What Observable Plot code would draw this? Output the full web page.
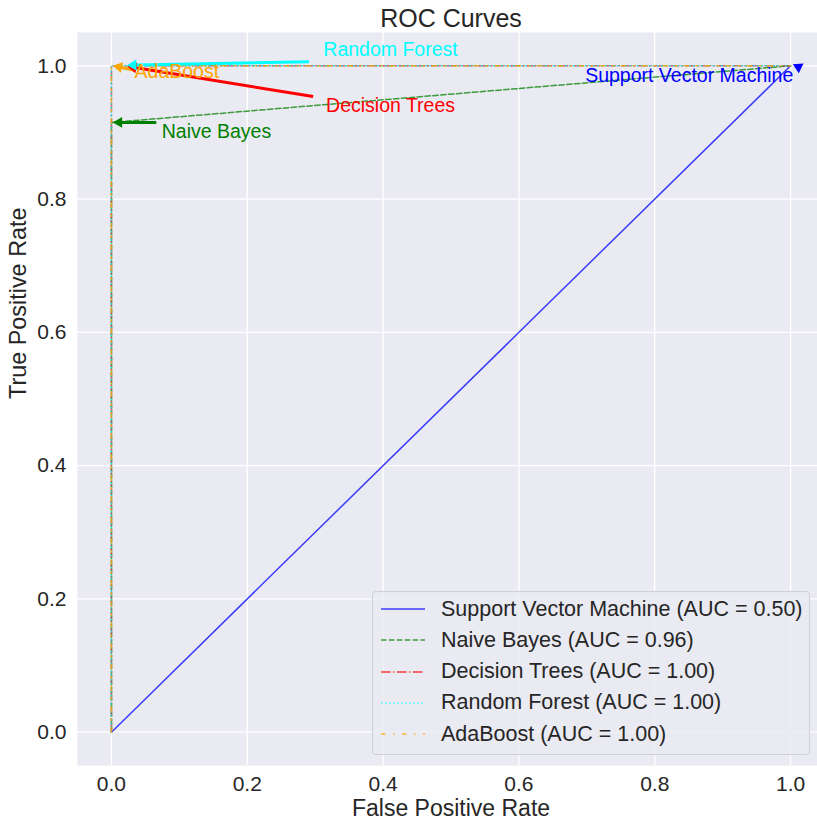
<!DOCTYPE html>
<html>
<head>
<meta charset="utf-8">
<script src="https://cdn.jsdelivr.net/npm/d3@7"></script>
<script src="https://cdn.jsdelivr.net/npm/@observablehq/plot@0.6"></script>
<style>
  html, body { margin: 0; padding: 0; background: #fff; overflow: hidden; }
  #wrap { position: relative; width: 817px; height: 822px; font-family: "Liberation Sans", Arial, sans-serif; }
  #legend { position: absolute; left: 372px; top: 591px; width: 438px; height: 164px;
            border: 1px solid #cfcfd6; border-radius: 4px; background: rgba(234,234,242,0.85); box-sizing: border-box; }
  .row { position: absolute; left: 0; height: 30px; display: flex; align-items: center; }
  .row span { font-size: 21.5px; color: #262626; margin-left: 16px; white-space: nowrap; }
  .row svg { margin-left: 8px; }
</style>
</head>
<body>
<div id="wrap"><div id="legend"></div></div>
<script>
// ---- data ----
const models = ["Support Vector Machine", "Naive Bayes", "Decision Trees", "Random Forest", "AdaBoost"];
const aucs = [0.50, 0.96, 1.00, 1.00, 1.00];
const colors = ["blue", "green", "red", "cyan", "orange"];

const fprSVM = [0, 1];        const tprSVM = [0, 1];
const fprNB  = [0, 0, 1];     const tprNB  = [0, 0.915, 1];
const fprDT  = [0, 0, 1];     const tprDT  = [0, 1, 1];
const fprRF  = [0, 0, 1];     const tprRF  = [0, 1, 1];
const fprAda = [0, 0, 1];     const tprAda = [0, 1, 1];

const xTicks = [0, 0.2, 0.4, 0.6, 0.8, 1.0];
const yTicks = [0, 0.2, 0.4, 0.6, 0.8, 1.0];

// annotations (text position and arrow from -> to, in data units)
const annText   = ["Support Vector Machine", "Naive Bayes", "Decision Trees", "Random Forest", "AdaBoost"];
const annTextX  = [1.004, 0.074, 0.316, 0.312, 0.034];
const annTextY  = [0.985, 0.901, 0.940, 1.024, 0.991];
const annAnchor = ["end", "start", "start", "start", "start"];
const annFromX  = [1.011, 0.066, 0.297, 0.291, 0.036];
const annFromY  = [1.008, 0.915, 0.954, 1.006, 0.993];
const annToX    = [1.012, 0.003, 0.024, 0.024, 0.003];
const annToY    = [0.990, 0.915, 0.999, 1.001, 1.000];

// ---- styles ----
const dashes = [null, "5.5,2.4", "9.6,2.4,1.5,2.4", "1.5,2.5", "4.5,7.5,1.5,7.5"];
const series = [[fprSVM, tprSVM], [fprNB, tprNB], [fprDT, tprDT], [fprRF, tprRF], [fprAda, tprAda]];

const W = 817, H = 822, mL = 77, mR = -7, mT = 32, mB = 57;
const xDom = [-0.05, 1.05], yDom = [-0.05, 1.05];
const kx = (W - mR - mL) / (xDom[1] - xDom[0]);
const ky = (H - mB - mT) / (yDom[1] - yDom[0]);
const font = "Liberation Sans, Arial, sans-serif";

const lineMarks = series.map(([fx, ty], i) =>
  Plot.line(d3.zip(fx, ty), {
    x: d => d[0], y: d => d[1],
    stroke: colors[i], strokeOpacity: 0.75, strokeWidth: 1.5,
    strokeDasharray: dashes[i] || undefined
  })
);

const ann = annText.map((t, i) => {
  const dxp = (annToX[i] - annFromX[i]) * kx;
  const dyp = -(annToY[i] - annFromY[i]) * ky;
  const len = Math.hypot(dxp, dyp) || 1;
  const ux = dxp / len, uy = dyp / len;
  const back = 5.5;
  return {
    text: t, color: colors[i], anchor: annAnchor[i],
    tx: annTextX[i], ty: annTextY[i],
    fx: annFromX[i], fy: annFromY[i],
    cx: annToX[i] - ux * back / kx, cy: annToY[i] + uy * back / ky,
    rot: Math.atan2(ux, -uy) * 180 / Math.PI,
    bx: annToX[i] - ux * 7 / kx, by: annToY[i] + uy * 7 / ky
  };
});
const annShaft = ann.filter((a, i) => i !== 0);

const chart = Plot.plot({
  width: W, height: H,
  marginLeft: mL, marginRight: mR, marginTop: mT, marginBottom: mB,
  style: { fontFamily: font, fontSize: "21px", color: "#262626", background: "white", overflow: "hidden" },
  x: { domain: xDom, ticks: xTicks, tickFormat: d => d.toFixed(1), tickSize: 0, tickPadding: 11, label: null },
  y: { domain: yDom, ticks: yTicks, tickFormat: d => d.toFixed(1), tickSize: 0, tickPadding: 11, label: null },
  marks: [
    Plot.frame({ fill: "#EAEAF2", stroke: "none" }),
    Plot.ruleX(xTicks, { stroke: "white", strokeWidth: 1.3, strokeOpacity: 1 }),
    Plot.ruleY(yTicks, { stroke: "white", strokeWidth: 1.3, strokeOpacity: 1 }),
    ...lineMarks,
    Plot.link(annShaft, { x1: "fx", y1: "fy", x2: "bx", y2: "by", stroke: "color", strokeWidth: 3 }),
    Plot.dot(ann, { x: "cx", y: "cy", symbol: "triangle", r: 4, fill: "color", stroke: "none", rotate: "rot" }),
    Plot.text(ann.filter(a => a.anchor === "start"), { x: "tx", y: "ty", text: "text", fill: "color", textAnchor: "start", fontSize: 19.5 }),
    Plot.text(ann.filter(a => a.anchor === "end"), { x: "tx", y: "ty", text: "text", fill: "color", textAnchor: "end", fontSize: 19.5 }),
    Plot.text(["ROC Curves"], { frameAnchor: "top", lineAnchor: "middle", dy: -14, fontSize: 25, fill: "#262626" }),
    Plot.text(["False Positive Rate"], { frameAnchor: "bottom", lineAnchor: "middle", dy: 43, fontSize: 23, fill: "#262626" }),
    Plot.text(["True Positive Rate"], { frameAnchor: "left", lineAnchor: "middle", dx: -59, rotate: -90, fontSize: 23.4, fill: "#262626" })
  ]
});
document.getElementById("wrap").prepend(chart);

// legend
const legend = document.getElementById("legend");
models.forEach((m, i) => {
  const row = document.createElement("div");
  row.className = "row";
  row.style.top = (2 + i * 31.3) + "px";
  const svg = d3.create("svg").attr("width", 44).attr("height", 10);
  svg.append("line").attr("x1", 0).attr("x2", 44).attr("y1", 5).attr("y2", 5)
    .attr("stroke", colors[i]).attr("stroke-opacity", 0.75).attr("stroke-width", 1.5)
    .attr("stroke-dasharray", dashes[i] || null);
  row.appendChild(svg.node());
  const sp = document.createElement("span");
  sp.textContent = `${m} (AUC = ${aucs[i].toFixed(2)})`;
  row.appendChild(sp);
  legend.appendChild(row);
});
</script>
</body>
</html>
